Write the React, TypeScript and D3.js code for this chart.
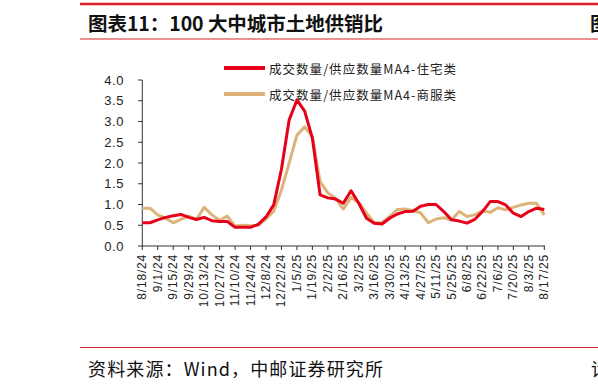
import * as d3 from 'd3';

const xLabels = [
  '8/18/24', '9/1/24', '9/15/24', '9/29/24', '10/13/24', '10/27/24', '11/10/24',
  '11/24/24', '12/8/24', '12/22/24', '1/5/25', '1/19/25', '2/2/25', '2/16/25',
  '3/2/25', '3/16/25', '3/30/25', '4/13/25', '4/27/25', '5/11/25', '5/25/25',
  '6/8/25', '6/22/25', '7/6/25', '7/20/25', '8/3/25', '8/17/25',
];

// weekly values, 8/18/24 .. 8/17/25
const residential = [
  0.56, 0.56, 0.63, 0.69, 0.73, 0.76, 0.69, 0.64, 0.69, 0.61, 0.59, 0.59, 0.45, 0.45,
  0.45, 0.52, 0.7, 0.99, 1.85, 3.04, 3.52, 3.25, 2.6, 1.23, 1.16, 1.13, 1.03, 1.33,
  1.03, 0.67, 0.55, 0.53, 0.67, 0.77, 0.83, 0.84, 0.96, 1.0, 1.0, 0.83, 0.63, 0.6,
  0.55, 0.64, 0.83, 1.07, 1.07, 0.99, 0.79, 0.71, 0.83, 0.91, 0.88,
];
const commercial = [
  0.91, 0.91, 0.75, 0.67, 0.56, 0.64, 0.72, 0.64, 0.93, 0.75, 0.62, 0.72, 0.48, 0.5,
  0.49, 0.5, 0.65, 0.84, 1.35, 2.0, 2.67, 2.87, 2.63, 1.55, 1.28, 1.15, 0.89, 1.17,
  1.05, 0.79, 0.56, 0.56, 0.71, 0.88, 0.89, 0.85, 0.8, 0.56, 0.65, 0.68, 0.63, 0.83,
  0.71, 0.75, 0.85, 0.81, 0.92, 0.87, 0.93, 0.99, 1.03, 1.03, 0.75,
];

const seriesNames = ['成交数量/供应数量MA4-住宅类', '成交数量/供应数量MA4-商服类'];
const colors = ['#e60019', '#dcb47a'];

const W = 598;
const H = 387;
const CJK = '"Noto Sans CJK SC", sans-serif';
const LAT = '"Liberation Sans", Arial, sans-serif';

export default function App() {
  const x = d3.scaleLinear().domain([0, residential.length - 1]).range([142.3, 544.3]);
  const y = d3.scaleLinear().domain([0, 4]).range([246, 80]);

  const line = d3
    .line<number>()
    .x((_, i) => x(i))
    .y((d) => y(d));

  const yTicks = d3.range(0, 4.01, 0.5);
  const fmt = d3.format('.1f');

  return (
    <svg
      width={W}
      height={H}
      style={{ position: 'absolute', left: 0, top: 0, background: '#fff' }}
    >
      {/* header */}
      <line x1={80} x2={W} y1={4} y2={4} stroke="#d9222a" strokeWidth={2.5} />
      <text x={88} y={31} fontFamily={CJK} fontSize={19.5} fontWeight="bold" fill="#111"
        textLength={295} lengthAdjust="spacing">
        图表11：100 大中城市土地供销比
      </text>
      <text x={590} y={31} fontFamily={CJK} fontSize={19.5} fontWeight="bold" fill="#111">图</text>
      <line x1={80} x2={W} y1={39} y2={39} stroke="#d9222a" strokeWidth={1.2} />

      {/* legend */}
      {seriesNames.map((name, i) => (
        <g key={name} transform={`translate(0,${68 + i * 26})`}>
          <line x1={224} x2={265} y1={0} y2={0} stroke={colors[i]} strokeWidth={4} />
          <text x={269} y={0} dominantBaseline="central" fontFamily={CJK} fontSize={12.5}
            fill="#222" textLength={187} lengthAdjust="spacing">
            {name}
          </text>
        </g>
      ))}

      {/* y axis */}
      <line x1={142.3} x2={142.3} y1={y(4)} y2={y(0)} stroke="#333" strokeWidth={1} />
      {yTicks.map((t) => (
        <g key={t}>
          <line x1={138} x2={142.3} y1={y(t)} y2={y(t)} stroke="#333" />
          <text x={124} y={y(t)} textAnchor="end" dominantBaseline="central"
            fontFamily={LAT} fontSize={13} letterSpacing={0.6} fill="#222">
            {fmt(t)}
          </text>
        </g>
      ))}

      {/* x axis */}
      <line x1={142.3} x2={545} y1={y(0)} y2={y(0)} stroke="#333" strokeWidth={1} />
      {xLabels.map((lab, i) => {
        const px = x(i * 2);
        return (
          <g key={lab}>
            <line x1={px} x2={px} y1={y(0)} y2={y(0) + 4} stroke="#333" />
            <text
              transform={`translate(${px},${y(0) + 8}) rotate(-90)`}
              textAnchor="end"
              dominantBaseline="central"
              fontFamily={LAT}
              fontSize={12}
              letterSpacing={0.8}
              fill="#222"
            >
              {lab}
            </text>
          </g>
        );
      })}

      {/* lines */}
      <path d={line(commercial) ?? ''} fill="none" stroke={colors[1]} strokeWidth={3} strokeLinejoin="round" />
      <path d={line(residential) ?? ''} fill="none" stroke={colors[0]} strokeWidth={3} strokeLinejoin="round" />

      {/* footer */}
      <line x1={80} x2={W} y1={347.5} y2={347.5} stroke="#d9222a" strokeWidth={1.2} />
      <text x={88} y={376} fontFamily={CJK} fontSize={18} fill="#111"
        textLength={295} lengthAdjust="spacing">
        资料来源：Wind，中邮证券研究所
      </text>
      <text x={591} y={376} fontFamily={CJK} fontSize={18} fill="#111">请</text>
    </svg>
  );
}
